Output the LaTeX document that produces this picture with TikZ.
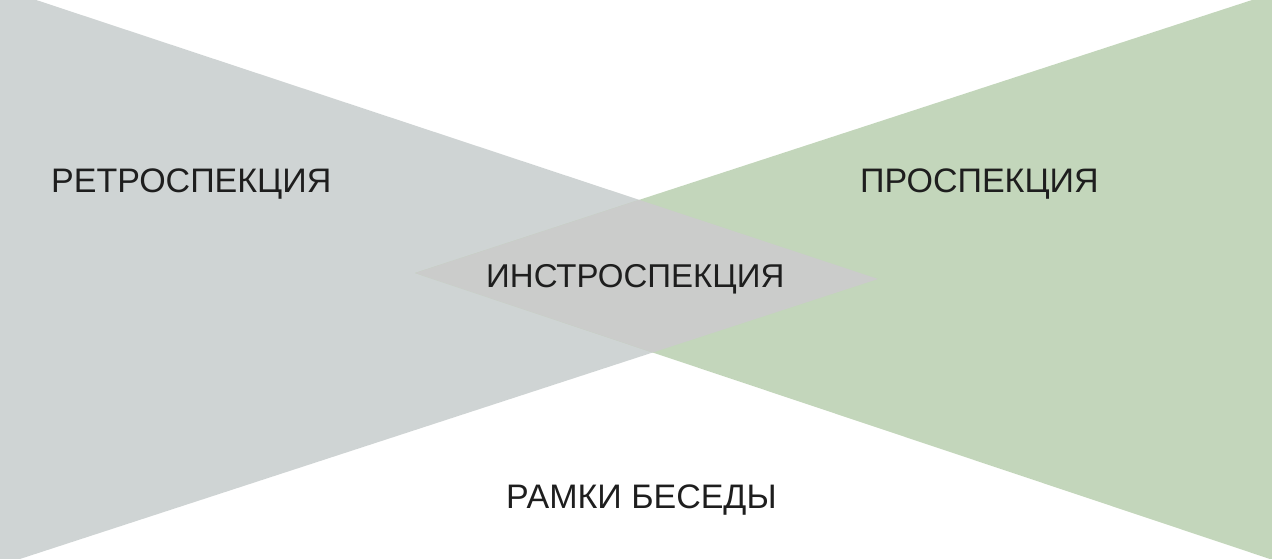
\documentclass[tikz,border=0pt]{standalone}
\usepackage{fontspec}
\setmainfont{Liberation Sans}
\definecolor{greyfill}{HTML}{CFD4D4}
\definecolor{greenfill}{HTML}{C3D6BB}
\definecolor{overlap}{HTML}{CBCCCB}
\definecolor{ink}{HTML}{1E1E1E}
\begin{document}
\begin{tikzpicture}[x=1pt,y=1pt,
  lbl/.style={inner sep=0pt,anchor=base west,text=ink,font=\fontsize{34}{40}\selectfont}]
\useasboundingbox (0,0) rectangle (1272,559);
\clip (0,0) rectangle (1272,559);
% grey (retrospection) triangle
\coordinate (gA) at (0,571);
\coordinate (gB) at (878,280);
\coordinate (gC) at (0,-6.5);
% green (prospection) triangle
\coordinate (pA) at (1272,565.5);
\coordinate (pB) at (415,286);
\coordinate (pC) at (1272,-0.7);
\fill[greyfill] (gA) -- (gB) -- (gC) -- cycle;
\fill[greenfill] (pA) -- (pB) -- (pC) -- cycle;
\begin{scope}
  \clip (pA) -- (pB) -- (pC) -- cycle;
  \fill[overlap] (gA) -- (gB) -- (gC) -- cycle;
\end{scope}
\node[lbl] (retro) at (51,366) {РЕТРОСПЕКЦИЯ};
\node[lbl] (pro) at (860,366) {ПРОСПЕКЦИЯ};
\node[lbl,font=\fontsize{33}{40}\selectfont] (intro) at (486,271) {ИНСТРОСПЕКЦИЯ};
\node[lbl] (frame) at (506,50) {РАМКИ БЕСЕДЫ};
\end{tikzpicture}
\end{document}
